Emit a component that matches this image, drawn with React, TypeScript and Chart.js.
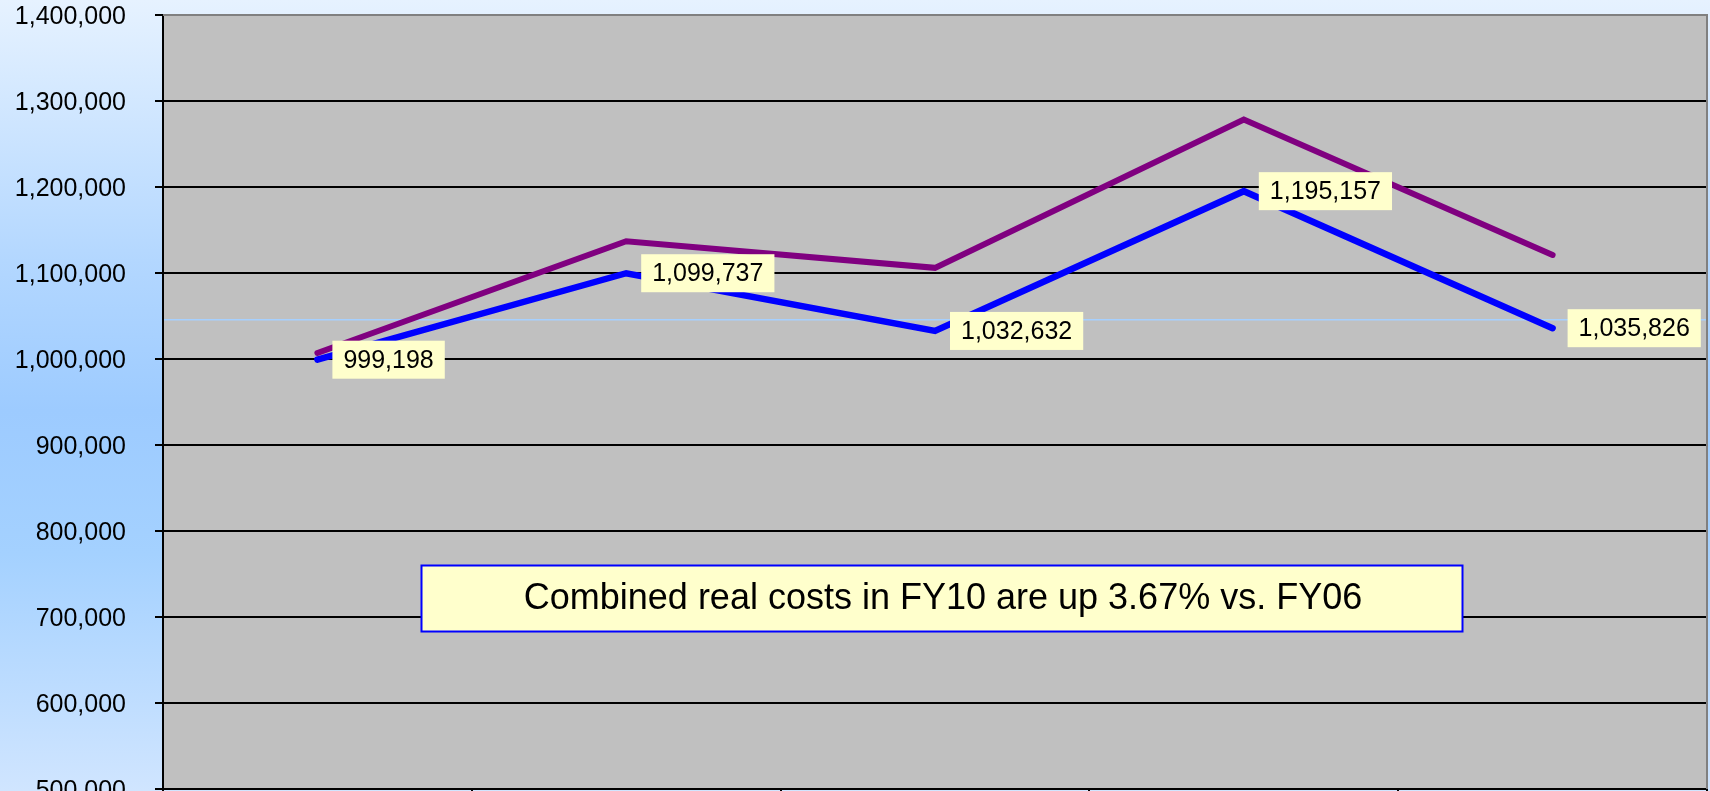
import React, { useEffect, useRef } from "react";
import { Chart, registerables } from "chart.js";

Chart.register(...registerables);

// ---- Data ----
const categories = ["FY06", "FY07", "FY08", "FY09", "FY10"];
const realCosts = [999198, 1099737, 1032632, 1195157, 1035826];
const nominalCosts = [1007000, 1137000, 1106000, 1278500, 1121000];
const yMin = 500000;
const yMax = 1400000;
const yStep = 100000;
const referenceLineValue = 1045500;
const annotationText = "Combined real costs in FY10 are up 3.67% vs. FY06";
const annotationCategory = "FY08";
const annotationValue = 721500;

const FONT = 'Arial, "Liberation Sans", sans-serif';
const W = 1710;
const VIEW_H = 791;
const CANVAS_H = 850;
const PLOT_BOTTOM = 789;

const fmt = (v: number) => Math.round(v).toLocaleString("en-US");

const backgroundPlugin = {
  id: "bgPlugin",
  beforeDraw(chart: any) {
    const { ctx, chartArea } = chart;
    ctx.save();
    const g = ctx.createLinearGradient(0, 0, 0, VIEW_H);
    g.addColorStop(0, "#e6f2ff");
    g.addColorStop(0.33, "#b3d7ff");
    g.addColorStop(0.52, "#9dcbff");
    g.addColorStop(0.7, "#a4d1ff");
    g.addColorStop(1, "#d0e5ff");
    ctx.fillStyle = g;
    ctx.fillRect(0, 0, chart.width, chart.height);
    ctx.fillStyle = "#c0c0c0";
    ctx.fillRect(chartArea.left, chartArea.top, chartArea.right - chartArea.left, chartArea.bottom - chartArea.top);
    ctx.restore();
  },
};

const framePlugin = {
  id: "framePlugin",
  beforeDatasetsDraw(chart: any) {
    const { ctx, chartArea, scales } = chart;
    ctx.save();
    // thin light-blue reference line
    const y = scales.y.getPixelForValue(referenceLineValue);
    ctx.strokeStyle = "#a6d0ff";
    ctx.lineWidth = 1.5;
    ctx.beginPath();
    ctx.moveTo(chartArea.left + 1, y);
    ctx.lineTo(chartArea.right, y);
    ctx.stroke();
    // gray top / right frame
    ctx.strokeStyle = "#808080";
    ctx.lineWidth = 2;
    ctx.beginPath();
    ctx.moveTo(chartArea.left, chartArea.top);
    ctx.lineTo(chartArea.right, chartArea.top);
    ctx.lineTo(chartArea.right, chartArea.bottom);
    ctx.stroke();
    ctx.restore();
  },
};

const labelPlugin = {
  id: "labelPlugin",
  afterDatasetsDraw(chart: any) {
    const { ctx } = chart;
    const meta = chart.getDatasetMeta(1);
    const ds = chart.data.datasets[1];
    ctx.save();
    ctx.font = `25px ${FONT}`;
    ctx.textBaseline = "middle";
    ctx.textAlign = "left";
    meta.data.forEach((pt: any, i: number) => {
      const text = fmt(ds.data[i]);
      const tw = ctx.measureText(text).width;
      const padX = 11;
      const h = 38;
      const x0 = pt.x + 15;
      const y0 = pt.y - h / 2;
      ctx.fillStyle = "#ffffcc";
      ctx.fillRect(x0, y0, tw + padX * 2, h);
      ctx.fillStyle = "#000";
      ctx.fillText(text, x0 + padX, pt.y + 1);
    });
    ctx.restore();
  },
};

const annotationPlugin = {
  id: "annotationPlugin",
  afterDraw(chart: any) {
    const { ctx, scales } = chart;
    const cx = scales.x.getPixelForValue(categories.indexOf(annotationCategory)) + 7;
    const cy = scales.y.getPixelForValue(annotationValue);
    const bw = 1041;
    const bh = 66;
    ctx.save();
    ctx.fillStyle = "#ffffcc";
    ctx.fillRect(cx - bw / 2, cy - bh / 2, bw, bh);
    ctx.strokeStyle = "#0000ff";
    ctx.lineWidth = 2;
    ctx.strokeRect(cx - bw / 2, cy - bh / 2, bw, bh);
    ctx.fillStyle = "#000";
    ctx.font = `36px ${FONT}`;
    ctx.textAlign = "center";
    ctx.textBaseline = "middle";
    ctx.fillText(annotationText, cx + 1, cy + 1);
    ctx.restore();
  },
};

export default function App() {
  const ref = useRef<HTMLCanvasElement | null>(null);

  useEffect(() => {
    if (!ref.current) return;
    const chart = new Chart(ref.current, {
      type: "line",
      data: {
        labels: categories,
        datasets: [
          {
            label: "Combined nominal costs",
            data: nominalCosts,
            borderColor: "#800080",
            backgroundColor: "#800080",
            borderWidth: 6,
            pointRadius: 0,
            borderCapStyle: "round",
            borderJoinStyle: "miter",
            tension: 0,
          },
          {
            label: "Combined real costs",
            data: realCosts,
            borderColor: "#0000ff",
            backgroundColor: "#0000ff",
            borderWidth: 6.5,
            pointRadius: 0,
            borderCapStyle: "round",
            borderJoinStyle: "miter",
            tension: 0,
          },
        ],
      },
      options: {
        responsive: false,
        animation: false,
        devicePixelRatio: 1,
        layout: { padding: { top: 15, right: 3, left: 0, bottom: 0 } },
        plugins: {
          legend: { display: false },
          tooltip: { enabled: false },
          title: { display: false },
        },
        scales: {
          x: {
            type: "category",
            offset: true,
            grid: {
              offset: true,
              drawOnChartArea: false,
              drawTicks: true,
              tickLength: 8,
              color: "#000",
              lineWidth: 2,
            },
            border: { display: true, color: "#000", width: 2 },
            ticks: { color: "#000", font: { family: FONT, size: 25 } },
            afterFit: (scale: any) => {
              scale.height = CANVAS_H - PLOT_BOTTOM;
            },
          },
          y: {
            min: yMin,
            max: yMax,
            grid: {
              color: "#000",
              lineWidth: 2,
              tickLength: 8,
              tickColor: "#000",
            },
            border: { display: true, color: "#000", width: 2 },
            ticks: {
              stepSize: yStep,
              color: "#000",
              padding: 29,
              labelOffset: 2,
              font: { family: FONT, size: 25 },
              callback: (v: any) => fmt(Number(v)),
            },
            afterFit: (scale: any) => {
              scale.width = 163;
              scale.paddingTop = 0;
              scale.paddingBottom = 0;
            },
          },
        },
      },
      plugins: [backgroundPlugin, framePlugin, labelPlugin, annotationPlugin],
    } as any);
    return () => chart.destroy();
  }, []);

  return (
    <div
      style={{
        position: "fixed",
        left: 0,
        top: 0,
        width: W,
        height: VIEW_H,
        overflow: "hidden",
      }}
    >
      <canvas ref={ref} width={W} height={CANVAS_H} style={{ display: "block", width: W, height: CANVAS_H }} />
    </div>
  );
}
